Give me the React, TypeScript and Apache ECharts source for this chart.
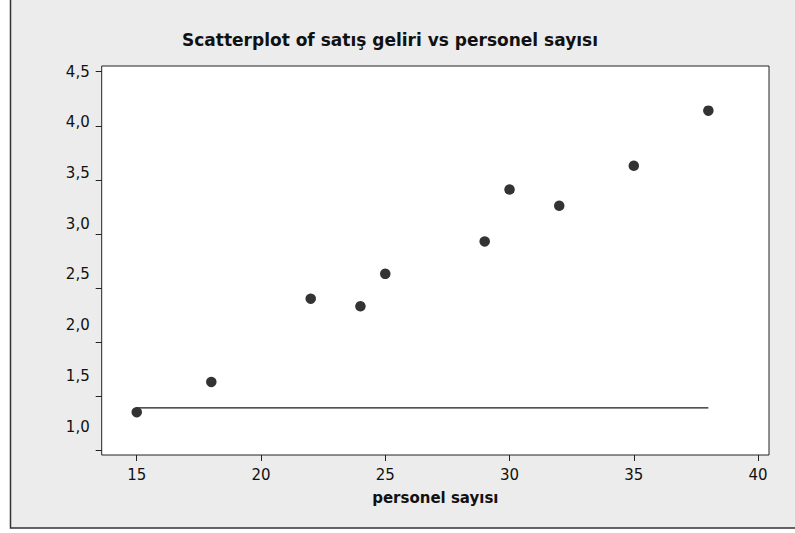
import React, { useEffect, useRef } from "react";
import * as echarts from "echarts";

const personelSayisi = [15, 18, 22, 24, 25, 29, 30, 32, 35, 38];
const satisGeliri = [1.35, 1.63, 2.40, 2.33, 2.63, 2.93, 3.41, 3.26, 3.63, 4.14];
const lineX = [15, 38];
const lineY = [1.39, 1.39];
const xTicks = [15, 20, 25, 30, 35, 40];
const yTicks = [1.0, 1.5, 2.0, 2.5, 3.0, 3.5, 4.0, 4.5];
const titleText = "Scatterplot of satış geliri vs personel sayısı";
const xName = "personel sayısı";

const FONT = "DejaVu Sans, Verdana, sans-serif";

export default function App() {
  const ref = useRef<HTMLDivElement>(null);
  useEffect(() => {
    if (!ref.current) return;
    const chart = echarts.init(ref.current, null, { renderer: "svg" });
    chart.setOption({
      animation: false,
      backgroundColor: "#ffffff",
      textStyle: { fontFamily: FONT },
      graphic: {
        elements: [
          {
            type: "rect",
            z: -100,
            silent: true,
            shape: { x: 10.5, y: -10, width: 800, height: 538 },
            style: { fill: "#ECECEC", stroke: "#333333", lineWidth: 1.5 },
          },
        ],
      },
      title: {
        text: titleText,
        left: 177,
        top: 26,
        textStyle: { fontFamily: FONT, fontSize: 17, fontWeight: "bold", color: "#111" },
      },
      grid: {
        left: 101.7,
        right: 795 - 769,
        top: 66,
        bottom: 533 - 455,
        show: true,
        backgroundColor: "#ffffff",
        borderColor: "#222222",
        borderWidth: 1,
        containLabel: false,
      },
      xAxis: {
        type: "value",
        min: 13.59,
        max: 40.44,
        name: xName,
        nameLocation: "middle",
        nameGap: 35,
        nameTextStyle: { fontFamily: FONT, fontSize: 15, fontWeight: "bold", color: "#111" },
        axisLine: { show: false },
        splitLine: { show: false },
        axisTick: { show: true, customValues: xTicks, length: 6, lineStyle: { color: "#222" } },
        axisLabel: {
          customValues: xTicks,
          margin: 12,
          fontFamily: FONT,
          fontSize: 15,
          color: "#111",
        },
      },
      yAxis: [
        {
          type: "value",
          min: 0.954,
          max: 4.553,
          position: "left",
          axisLine: { show: false },
          splitLine: { show: false },
          axisTick: { show: true, customValues: yTicks, length: 6, lineStyle: { color: "#222" } },
          axisLabel: { show: false },
        },
        {
          type: "value",
          min: 0.72,
          max: 4.556,
          position: "left",
          axisLine: { show: false },
          splitLine: { show: false },
          axisTick: { show: false },
          axisLabel: {
            customValues: yTicks,
            margin: 12,
            fontFamily: FONT,
            fontSize: 15,
            color: "#111",
            formatter: (v: number) => v.toFixed(1).replace(".", ","),
          },
        },
      ],
      series: [
        {
          type: "line",
          yAxisIndex: 0,
          data: lineX.map((x, i) => [x, lineY[i]]),
          symbol: "none",
          lineStyle: { color: "#1a1a1a", width: 1.3 },
          silent: true,
          z: 2,
        },
        {
          type: "scatter",
          yAxisIndex: 0,
          data: personelSayisi.map((x, i) => [x, satisGeliri[i]]),
          symbol: "circle",
          symbolSize: 10.5,
          itemStyle: { color: "#333333", opacity: 1 },
          z: 3,
        },
      ],
    });
    return () => chart.dispose();
  }, []);
  return (
    <div
      ref={ref}
      style={{ position: "fixed", left: 0, top: 0, width: 795, height: 533 }}
    />
  );
}
